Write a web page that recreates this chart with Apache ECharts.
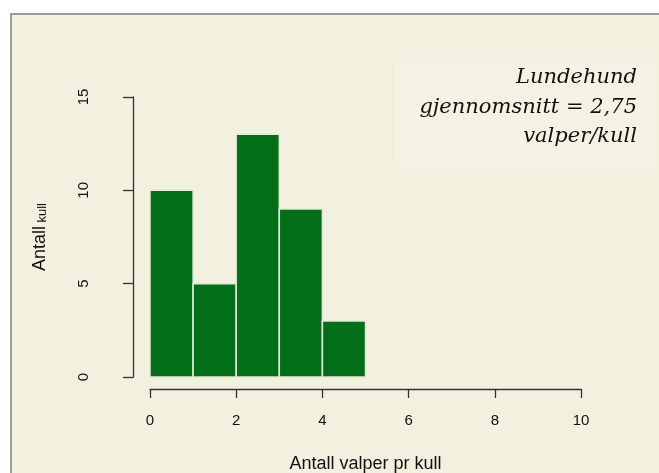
<!DOCTYPE html>
<html>
<head>
<meta charset="utf-8">
<script src="https://cdn.jsdelivr.net/npm/echarts@6/dist/echarts.min.js"></script>
<style>
html, body { margin: 0; padding: 0; background: #fff; }
#chart { width: 659px; height: 473px; }
</style>
</head>
<body>
<div id="chart"></div>
<script>
// histogram bins (antall valper pr kull) and counts
const binStart = [0, 1, 2, 3, 4];
const binEnd = [1, 2, 3, 4, 5];
const counts = [10, 5, 13, 9, 3];
const noteLines = ["Lundehund", "gjennomsnitt = 2,75", "valper/kull"];

const chart = echarts.init(document.getElementById("chart"));

const bars = counts.map((c, i) => [binStart[i], binEnd[i], c]);

const axisStyle = { color: "#333", width: 1.3 };

// note lines, right aligned in the upper right corner
const noteText = noteLines.map((t, i) => ({
  type: "text",
  z: 5,
  x: 637,
  y: 78 + i * 29.5,
  style: {
    text: t,
    fontFamily: "DejaVu Serif",
    fontStyle: "italic",
    fontSize: 21,
    align: "right",
    verticalAlign: "middle",
    fill: "#111"
  }
}));

const option = {
  backgroundColor: "#fff",
  animation: false,
  graphic: [
    {
      type: "rect",
      z: -10,
      shape: { x: 11, y: 14, width: 700, height: 500 },
      style: { fill: "#f2f0de", stroke: "#9c9c9c", lineWidth: 2 }
    },
    {
      type: "rect",
      z: -9,
      shape: { x: 395, y: 60, width: 262, height: 105 },
      style: { fill: "#f4f2e3" }
    }
  ].concat(noteText),
  grid: { left: 150, right: 78, top: 97, bottom: 96, outerBoundsMode: "none", containLabel: false },
  xAxis: {
    type: "value",
    min: 0,
    max: 10,
    interval: 2,
    offset: 12,
    splitLine: { show: false },
    axisLine: { show: true, onZero: false, lineStyle: axisStyle },
    axisTick: { show: true, length: 9, lineStyle: axisStyle },
    axisLabel: { margin: 24, fontSize: 15, color: "#111", fontFamily: "Liberation Sans" },
    name: "Antall valper pr kull",
    nameLocation: "middle",
    nameGap: 66,
    nameTextStyle: { fontSize: 18, color: "#111", fontFamily: "Liberation Sans" }
  },
  yAxis: {
    type: "value",
    min: 0,
    max: 15,
    interval: 5,
    offset: 17,
    splitLine: { show: false },
    axisLine: { show: true, onZero: false, lineStyle: axisStyle },
    axisTick: { show: true, length: 10, lineStyle: axisStyle },
    axisLabel: { rotate: 90, margin: 42, fontSize: 15, color: "#111", fontFamily: "Liberation Sans" },
    name: "{a|Antall} {b|kull}",
    nameLocation: "middle",
    nameGap: 84,
    nameTextStyle: {
      color: "#111",
      fontFamily: "Liberation Sans",
      rich: {
        a: { fontSize: 18, fontFamily: "Liberation Sans", color: "#111" },
        b: { fontSize: 13, fontFamily: "Liberation Sans", color: "#111", verticalAlign: "bottom" }
      }
    }
  },
  series: [
    {
      type: "custom",
      data: bars,
      renderItem: function (params, api) {
        const p0 = api.coord([api.value(0), 0]);
        const p1 = api.coord([api.value(1), api.value(2)]);
        return {
          type: "rect",
          shape: { x: p0[0], y: p1[1], width: p1[0] - p0[0], height: p0[1] - p1[1] },
          style: { fill: "#006f17", stroke: "#e6e8d6", lineWidth: 1.5 }
        };
      }
    }
  ]
};

chart.setOption(option);
</script>
</body>
</html>
